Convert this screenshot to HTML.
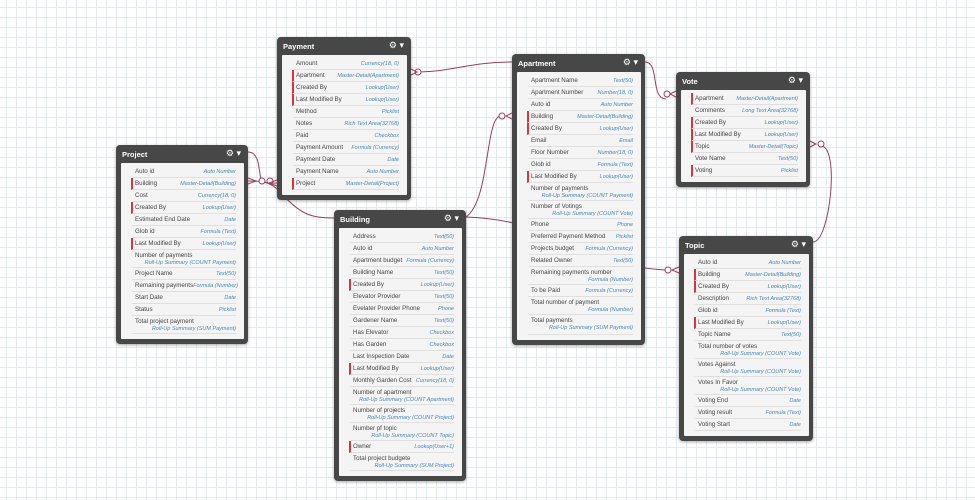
<!DOCTYPE html>
<html><head><meta charset="utf-8"><style>
*{box-sizing:border-box;margin:0;padding:0}
body{width:975px;height:500px;overflow:hidden;position:relative;font-family:"Liberation Sans",sans-serif;
background-color:#fff;background-image:linear-gradient(#e4ebf3 1px,transparent 1px),linear-gradient(90deg,#e4ebf3 1px,transparent 1px);background-size:10px 10px;background-position:-4px -3px}
svg{position:absolute;left:0;top:0}
.b{position:absolute;background:#474747;border-radius:4px;padding:0 4px 5px 5px;box-shadow:0 1px 3px rgba(0,0,0,.35)}
.h{height:18px;color:#fff;font-weight:bold;font-size:7.5px;line-height:19px;position:relative;padding-left:1px}
.h:after{content:"⚙ ▾";position:absolute;right:3px;top:-1px;font-size:9px;font-weight:normal}
.p{background:#f4f4f4;padding:3px 8px 5px 10px;border-radius:1px}
.r{height:12px;display:flex;justify-content:space-between;align-items:center;border-bottom:1px solid #e0e0e0;font-size:6.2px;color:#444;padding-left:2px;border-left:2px solid transparent;white-space:nowrap}
.r i{color:#4a86b8;font-size:5.5px}
.m{border-left-color:#d9343f}
.d{height:18px;display:block;padding-top:2px}
.d i{display:block;text-align:right;margin-top:1px}
</style></head><body>
<svg width="975" height="500" fill="none" stroke="#9a3f5a" stroke-width="1">
<path d="M248,152 C262,152 258,178 262,181 C266,184 272,183 277,183"/>
<path d="M248,181 C262,181 270,181 280,192 C300,214 310,218 334,218"/>
<circle cx="262" cy="181" r="3" fill="#fff"/><circle cx="270" cy="181" r="3" fill="#fff"/>
<path d="M248,178 L256,181 L248,184 M277,180 L269,183 L277,186"/>
<path d="M418,72 C450,72 470,62 512,62"/><circle cx="418" cy="72" r="3" fill="#fff"/><path d="M411,69 L417,72 L411,75"/>
<path d="M500,116 C485,120 490,200 466,217"/><circle cx="502" cy="116" r="3" fill="#fff"/><path d="M512,113 L506,116 L512,119"/>
<path d="M466,217 C560,220 580,266 666,270"/><circle cx="668" cy="270" r="3" fill="#fff"/><path d="M679,267 L672,270 L679,273"/>
<path d="M645,62 C660,62 650,99 666,99"/><circle cx="667" cy="94" r="3" fill="#fff"/><path d="M676,91 L670,94 L676,97"/>
<path d="M821,146 C840,146 830,242 813,242"/><circle cx="821" cy="144" r="3" fill="#fff"/><path d="M810,141 L816,144 L810,147"/>
</svg>

<div class="b" style="left:116px;top:145px;width:132px"><div class="h">Project</div><div class="p">
<div class="r">Auto id<i>Auto Number</i></div>
<div class="r m">Building<i>Master-Detail(Building)</i></div>
<div class="r">Cost<i>Currency(18, 0)</i></div>
<div class="r m">Created By<i>Lookup(User)</i></div>
<div class="r">Estimated End Date<i>Date</i></div>
<div class="r">Glob id<i>Formula (Text)</i></div>
<div class="r m">Last Modified By<i>Lookup(User)</i></div>
<div class="r d">Number of payments<i>Roll-Up Summary (COUNT Payment)</i></div>
<div class="r">Project Name<i>Text(50)</i></div>
<div class="r">Remaining payments<i>Formula (Number)</i></div>
<div class="r">Start Date<i>Date</i></div>
<div class="r">Status<i>Picklist</i></div>
<div class="r d">Total project payment<i>Roll-Up Summary (SUM Payment)</i></div>
</div></div>

<div class="b" style="left:277px;top:37px;width:134px"><div class="h">Payment</div><div class="p">
<div class="r">Amount<i>Currency(18, 0)</i></div>
<div class="r m">Apartment<i>Master-Detail(Apartment)</i></div>
<div class="r m">Created By<i>Lookup(User)</i></div>
<div class="r m">Last Modified By<i>Lookup(User)</i></div>
<div class="r">Method<i>Picklist</i></div>
<div class="r">Notes<i>Rich Text Area(32768)</i></div>
<div class="r">Paid<i>Checkbox</i></div>
<div class="r">Payment Amount<i>Formula (Currency)</i></div>
<div class="r">Payment Date<i>Date</i></div>
<div class="r">Payment Name<i>Auto Number</i></div>
<div class="r m">Project<i>Master-Detail(Project)</i></div>
</div></div>

<div class="b" style="left:334px;top:210px;width:132px"><div class="h">Building</div><div class="p">
<div class="r">Address<i>Text(50)</i></div>
<div class="r">Auto id<i>Auto Number</i></div>
<div class="r">Apartment budget<i>Formula (Currency)</i></div>
<div class="r">Building Name<i>Text(50)</i></div>
<div class="r m">Created By<i>Lookup(User)</i></div>
<div class="r">Elevator Provider<i>Text(50)</i></div>
<div class="r">Evelater Provider Phone<i>Phone</i></div>
<div class="r">Gardener Name<i>Text(50)</i></div>
<div class="r">Has Elevator<i>Checkbox</i></div>
<div class="r">Has Garden<i>Checkbox</i></div>
<div class="r">Last Inspection Date<i>Date</i></div>
<div class="r m">Last Modified By<i>Lookup(User)</i></div>
<div class="r">Monthly Garden Cost<i>Currency(18, 0)</i></div>
<div class="r d">Number of apartment<i>Roll-Up Summary (COUNT Apartment)</i></div>
<div class="r d">Number of projects<i>Roll-Up Summary (COUNT Project)</i></div>
<div class="r d">Number pf topic<i>Roll-Up Summary (COUNT Topic)</i></div>
<div class="r m">Owner<i>Lookup(User+1)</i></div>
<div class="r d">Total project budgete<i>Roll-Up Summary (SUM Project)</i></div>
</div></div>

<div class="b" style="left:512px;top:54px;width:133px"><div class="h">Apartment</div><div class="p">
<div class="r">Apartment Name<i>Text(50)</i></div>
<div class="r">Apartment Number<i>Number(18, 0)</i></div>
<div class="r">Auto id<i>Auto Number</i></div>
<div class="r m">Building<i>Master-Detail(Building)</i></div>
<div class="r m">Created By<i>Lookup(User)</i></div>
<div class="r">Email<i>Email</i></div>
<div class="r">Floor Number<i>Number(18, 0)</i></div>
<div class="r">Glob id<i>Formula (Text)</i></div>
<div class="r m">Last Modified By<i>Lookup(User)</i></div>
<div class="r d">Number of payments<i>Roll-Up Summary (COUNT Payment)</i></div>
<div class="r d">Number of Votings<i>Roll-Up Summary (COUNT Vote)</i></div>
<div class="r">Phone<i>Phone</i></div>
<div class="r">Preferred Payment Method<i>Picklist</i></div>
<div class="r">Projects budget<i>Formula (Currency)</i></div>
<div class="r">Related Owner<i>Text(50)</i></div>
<div class="r d">Remaining payments number<i>Formula (Number)</i></div>
<div class="r">To be Paid<i>Formula (Currency)</i></div>
<div class="r d">Total number of payment<i>Formula (Number)</i></div>
<div class="r d" style="height:20px">Total payments<i>Roll-Up Summary (SUM Payment)</i></div>
</div></div>

<div class="b" style="left:676px;top:72px;width:134px"><div class="h">Vote</div><div class="p">
<div class="r m">Apartment<i>Master-Detail(Apartment)</i></div>
<div class="r">Comments<i>Long Text Area(32768)</i></div>
<div class="r m">Created By<i>Lookup(User)</i></div>
<div class="r m">Last Modified By<i>Lookup(User)</i></div>
<div class="r m">Topic<i>Master-Detail(Topic)</i></div>
<div class="r">Vote Name<i>Text(50)</i></div>
<div class="r m">Voting<i>Picklist</i></div>
</div></div>

<div class="b" style="left:679px;top:236px;width:134px"><div class="h">Topic</div><div class="p">
<div class="r">Auto id<i>Auto Number</i></div>
<div class="r m">Building<i>Master-Detail(Building)</i></div>
<div class="r m">Created By<i>Lookup(User)</i></div>
<div class="r">Description<i>Rich Text Area(32768)</i></div>
<div class="r">Glob id<i>Formula (Text)</i></div>
<div class="r m">Last Modified By<i>Lookup(User)</i></div>
<div class="r">Topic Name<i>Text(50)</i></div>
<div class="r d">Total number of votes<i>Roll-Up Summary (COUNT Vote)</i></div>
<div class="r d">Votes Against<i>Roll-Up Summary (COUNT Vote)</i></div>
<div class="r d">Votes In Favor<i>Roll-Up Summary (COUNT Vote)</i></div>
<div class="r">Voting End<i>Date</i></div>
<div class="r">Voting result<i>Formula (Text)</i></div>
<div class="r">Voting Start<i>Date</i></div>
</div></div>
</body></html>
